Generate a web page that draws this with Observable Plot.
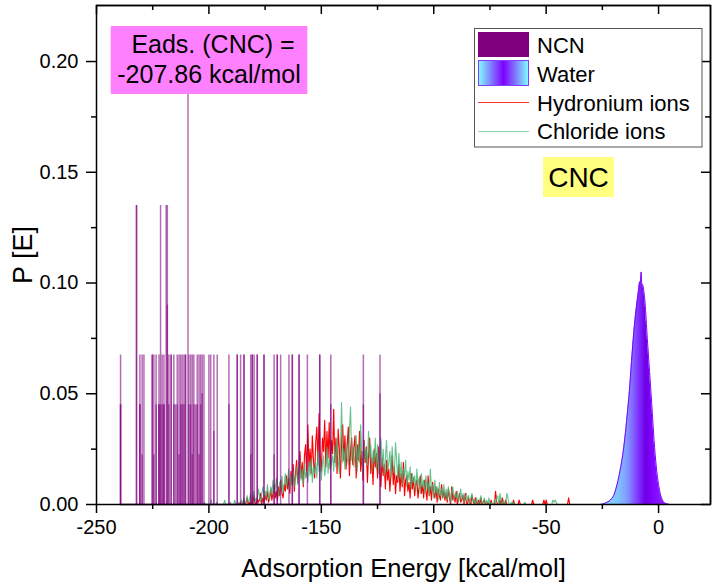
<!DOCTYPE html>
<html>
<head>
<meta charset="utf-8">
<script src="https://cdn.jsdelivr.net/npm/d3@7"></script>
<script src="https://cdn.jsdelivr.net/npm/@observablehq/plot@0.6"></script>
<style>
  html, body { margin: 0; padding: 0; background: #fff; }
  #chart svg { display: block; }
</style>
</head>
<body>
<div id="chart"></div>
<script>
// ---------------- DATA ----------------
// Axis ticks
const xMajorTicks = [-250, -200, -150, -100, -50, 0];
const xMinorTicks = [-225, -175, -125, -75, -25];
const yMajorTicks = [0, 0.05, 0.10, 0.15, 0.20];
const yMinorTicks = [0.025, 0.075, 0.125, 0.175];
const xDomain = [-250, 23.1];
const yDomain = [0, 0.2253];

// NCN adsorption-energy histogram spikes (energy, probability); repeated energies = overlapping bins
const ncnE = [
  -239.3, -239.3, -239.3, -232.2, -232.2, -230.7, -230.7, -230.7, -229.7, -229.7, -228.9,
  -225.2, -225.2, -224.5, -224.5, -223.5, -223.5, -222.2, -222.2, -222.2, -221.5, -221.5,
  -220.8, -220.8, -220.0, -220.0, -220.0, -219.0, -218.5, -218.5, -217.8, -217.8,
  -216.8, -216.8, -215.6, -215.6, -214.9, -214.1, -214.1, -213.3, -213.3, -212.6, -212.6,
  -211.9, -211.9, -211.1, -211.1, -210.4, -210.4, -208.9, -208.9, -208.1, -208.1,
  -207.4, -207.4, -206.7, -206.7, -205.9, -205.2, -205.2, -204.4, -204.4, -203.7, -203.7,
  -203.0, -203.0, -202.2, -200.0, -199.2, -197.8, -197.8, -196.3, -191.1, -191.1,
  -187.4, -187.4, -185.9, -184.4, -184.4, -181.4, -181.4, -180.7, -180.7, -179.9,
  -178.5, -178.5, -175.5, -175.5, -171.0, -171.0, -169.6, -169.6, -168.1, -164.4,
  -162.9, -162.9, -159.9, -159.9, -156.2, -150.7, -150.7, -145.8, -145.8,
  -131.3, -131.3, -123.9, -123.9
];
const ncnP = [
  0.0675, 0.045, 0.045, 0.135, 0.135, 0.0675, 0.045, 0.045, 0.0675, 0.0225, 0.0675,
  0.0675, 0.0675, 0.0675, 0.0225, 0.0675, 0.045, 0.0675, 0.045, 0.045, 0.135, 0.045,
  0.0675, 0.045, 0.0675, 0.045, 0.045, 0.135, 0.135, 0.09, 0.0675, 0.045,
  0.0675, 0.0675, 0.0675, 0.045, 0.045, 0.0675, 0.045, 0.0675, 0.0225, 0.0675, 0.045,
  0.0675, 0.045, 0.0675, 0.045, 0.0675, 0.0675, 0.0675, 0.045, 0.0675, 0.045,
  0.0675, 0.0225, 0.0675, 0.045, 0.045, 0.0675, 0.045, 0.0675, 0.0225, 0.0675, 0.045,
  0.0675, 0.05, 0.0675, 0.0675, 0.0675, 0.0675, 0.033, 0.0675, 0.0675, 0.045,
  0.0675, 0.0675, 0.0675, 0.0675, 0.0675, 0.0675, 0.0225, 0.0675, 0.0675, 0.0675,
  0.0675, 0.0675, 0.0675, 0.0675, 0.0675, 0.0225, 0.0675, 0.0675, 0.0675, 0.0675,
  0.0675, 0.0675, 0.0675, 0.0675, 0.0675, 0.0675, 0.0675, 0.0675, 0.045,
  0.0675, 0.045, 0.0675, 0.05
];

// Mean adsorption energy marker (Eads. CNC)
const eadsE = [-209.3];
const eadsTop = [0.1851];

// Ion histograms: energy bins -205 ... -38 (step 0.5 kcal/mol); probabilities in units of 1e-3
const ionE = d3.range(-410, -75).map(i => i / 2);
const hydroniumMilli = [
  0,0,0,0,0,0,0,0,0,0, 0,0,0,0,0,0,0,0,0,0,      // -205
  0,0,0,0,0,0,0,0,0,0, 0,0,0,0,0,0,0,0,1,0,      // -195
  0,2,0,1,3,0,1,0,2,0, 4,1,0,3,1,2,5,0,3,1,      // -185
  4,2,6,1,3,7,2,5,9,3, 6,2,8,4,11,5,3,9,6,13,    // -175
  7,12,5,15,9,18,6,14,20,10, 16,24,12,19,8,22,27,13,36,17,   // -165
  25,14,31,20,12,28,35,18,41,22, 15,30,24,38,17,33,21,37,16,29, // -155
  23,43,19,30,14,34,25,12,28,36, 20,31,16,27,35,13,24,30,18,26, // -145
  31,12,27,20,33,15,24,11,29,19, 26,10,22,30,14,21,9,25,17,23,  // -135
  12,26,15,8,21,13,18,7,20,11, 16,6,14,22,9,17,5,13,10,18,      // -125
  6,14,8,19,4,11,13,6,10,3, 14,7,12,4,9,11,3,8,13,5,            // -115
  9,3,11,6,2,13,4,8,2,10, 5,3,8,1,7,4,2,9,3,6,                  // -105
  2,5,1,7,3,0,8,2,4,1, 6,0,3,5,1,2,4,0,5,1,                     // -95
  0,3,1,0,4,2,0,3,1,0, 2,0,3,0,1,2,0,0,1,0,                     // -85
  0,2,0,0,0,6,1,0,0,2, 0,3,0,0,2,0,0,0,0,0,                     // -75
  0,2,0,0,0,0,2,0,0,0, 0,0,0,0,0,0,0,0,2,0,                     // -65
  0,0,0,0,0,0,0,0,2,0, 2,0,0,0,0,0,0,0,0,0,                     // -55
  0,0,0,0,0,0,0,0,0,0, 3,0,0,0,0                                // -45 ... -38
];
const chlorideMilli = [
  0,0,0,0,0,0,1,0,0,0, 0,0,2,0,0,0,0,1,0,0,      // -205
  0,0,0,0,2,0,0,0,0,1, 0,0,0,2,0,0,1,0,0,2,      // -195
  0,3,1,0,4,1,2,5,0,3, 6,1,3,2,7,4,1,5,8,2,      // -185
  6,3,9,4,2,8,5,11,3,7, 12,6,4,10,7,13,5,9,14,8, // -175
  11,16,7,13,10,15,8,12,17,9, 14,20,11,16,9,18,12,15,10,19,     // -165
  13,21,10,17,14,19,12,24,15,20, 11,18,22,13,17,26,14,21,16,19, // -155
  22,15,27,17,30,20,14,24,46,19, 25,16,28,21,18,33,44,20,26,17, // -145
  23,31,15,27,19,36,22,14,29,20, 25,18,33,21,27,15,24,19,30,16, // -135
  27,14,22,30,17,25,13,21,29,15, 19,24,12,26,17,14,28,20,11,23, // -125
  12,19,9,16,13,20,8,15,11,17, 7,14,10,13,6,16,9,12,5,14,       // -115
  8,11,5,13,7,10,4,16,6,9, 3,11,5,8,2,10,4,7,3,9,               // -105
  3,7,2,8,4,1,6,8,2,5, 3,6,1,4,7,2,5,1,3,5,                     // -95
  2,4,0,3,5,1,2,0,3,1, 0,2,4,0,1,3,0,2,0,3,                     // -85
  0,1,0,0,2,0,3,4,0,5, 1,0,2,0,0,5,3,0,0,1,                     // -75
  0,1,0,0,0,0,0,0,0,0, 0,1,0,0,0,0,0,0,0,0,                     // -65
  0,0,0,0,0,0,0,0,0,0, 0,0,0,0,0,0,2,1,2,1,                     // -55
  0,0,0,0,0,0,0,0,0,0, 0,0,0,0,0                                // -45 ... -38
];

// Water adsorption-energy distribution
const waterE = [-26,-25,-24,-23,-22,-21,-20,-19,-18,-17,-16,-15,-14,-13,-12,-11,-10,-9,-8.5,-8,-7.75,-7.5,-7,-6,-5,-4,-3,-2,-1,0,1,2,3,4,5];
const waterP = [0,0.0002,0.0005,0.001,0.0015,0.0025,0.004,0.007,0.011,0.016,0.022,0.030,0.040,0.051,0.065,0.078,0.088,0.096,0.100,0.101,0.105,0.100,0.099,0.091,0.075,0.060,0.045,0.029,0.017,0.009,0.004,0.0015,0.0005,0.0002,0];

// Labels
const xTitle = "Adsorption Energy [kcal/mol]";
const yTitle = "P [E]";
const legendNames = ["NCN", "Water", "Hydronium ions", "Chloride ions"];
const eadsLines = ["Eads. (CNC) =", "-207.86 kcal/mol"];
const systemLabel = "CNC";

// ---------------- BUILD ----------------
const W = 712, H = 587;
const mL = 96, mR = 2, mT = 5, mB = 83;
const frameW = W - mL - mR, frameH = H - mT - mB;
const FONT = "'Liberation Sans', Arial, Helvetica, sans-serif";

const ncn = ncnE.map((e, i) => ({e, p: ncnP[i]}));
const ions = ionE.map((e, i) => ({e, h: hydroniumMilli[i] / 1000, c: chlorideMilli[i] / 1000}));
const water = waterE.map((e, i) => ({e, p: waterP[i]}));
const eads = eadsE.map((e, i) => ({e, top: eadsTop[i]}));

const svg = Plot.plot({
  width: W, height: H,
  marginLeft: mL, marginRight: mR, marginTop: mT, marginBottom: mB,
  style: {fontFamily: FONT, color: "black", background: "white", overflow: "visible"},
  x: {domain: xDomain},
  y: {domain: yDomain},
  marks: [
    // ion histograms
    Plot.line(ions, {x: "e", y: "h", stroke: "#ff0000", strokeWidth: 1.15}),
    Plot.line(ions, {x: "e", y: "c", stroke: "#3cb371", strokeWidth: 1.1, strokeOpacity: 0.8}),
    // NCN spikes
    Plot.ruleY([0], {x1: d3.min(ncnE), x2: d3.max(ncnE), stroke: "#800080", strokeWidth: 1.5}),
    Plot.ruleX(ncn, {x: "e", y1: 0, y2: "p", stroke: "#800080", strokeOpacity: 0.58, strokeWidth: 1.5}),
    Plot.ruleX(eads, {x: "e", y1: 0, y2: "top", stroke: "#8a2a8a", strokeWidth: 1}),
    // water
    Plot.areaY(water, {x: "e", y: "p", fill: "url(#waterGrad)", curve: "monotone-x"}),
    Plot.line(water, {x: "e", y: "p", stroke: "#8000ff", strokeWidth: 1, curve: "monotone-x"}),
    // frame + axes
    Plot.frame({stroke: "black", strokeWidth: 1.5}),
    Plot.ruleY([yDomain[1]], {stroke: "black", strokeWidth: 1.5}),
    Plot.ruleX([xDomain[1]], {stroke: "black", strokeWidth: 1.5}),
    Plot.axisX({ticks: xMajorTicks, tickSize: 9, tickPadding: 6, fontSize: 20, strokeWidth: 1.5,
                tickFormat: d => String(d), label: null}),
    Plot.axisX({ticks: xMinorTicks, tickSize: 5, strokeWidth: 1.5, tickFormat: () => "", label: null}),
    Plot.tickX(xMajorTicks, {x: d => d, insetBottom: frameH - 9, stroke: "black", strokeWidth: 1.5}),
    Plot.tickX(xMinorTicks, {x: d => d, insetBottom: frameH - 5, stroke: "black", strokeWidth: 1.5}),
    Plot.axisY({ticks: yMajorTicks, tickSize: 10, tickPadding: 8, fontSize: 20, strokeWidth: 1.5,
                tickFormat: d3.format(".2f"), label: null}),
    Plot.axisY({ticks: yMinorTicks, tickSize: 5, strokeWidth: 1.5, tickFormat: () => "", label: null}),
    Plot.tickY(yMajorTicks, {y: d => d, insetLeft: frameW - 9, stroke: "black", strokeWidth: 1.5}),
    Plot.tickY(yMinorTicks, {y: d => d, insetLeft: frameW - 5, stroke: "black", strokeWidth: 1.5}),
    // titles
    Plot.text([xTitle], {frameAnchor: "bottom", dy: 64, fontSize: 25.5, lineAnchor: "middle", fill: "black"}),
    Plot.text([yTitle], {frameAnchor: "left", dx: -73, dy: 29, rotate: -90, fontSize: 27, lineAnchor: "middle", fill: "black"})
  ]
});

// gradients
const root = d3.select(svg);
const defs = root.insert("defs", ":first-child");
const wg = defs.append("linearGradient").attr("id", "waterGrad").attr("x1", "0").attr("x2", "1").attr("y1", "0").attr("y2", "0");
[[0, "#86dcff"], [0.26, "#80c4ff"], [0.39, "#809cff"], [0.48, "#8064ff"], [0.58, "#7f22ff"],
 [0.66, "#6c00e2"], [0.74, "#8000ff"], [1, "#8a30ff"]].forEach(([o, c]) =>
  wg.append("stop").attr("offset", o).attr("stop-color", c));
const lg = defs.append("linearGradient").attr("id", "legendGrad").attr("x1", "0").attr("x2", "1").attr("y1", "0").attr("y2", "0");
[[0, "#80ffff"], [0.5, "#8000ff"], [1, "#80ffff"]].forEach(([o, c]) =>
  lg.append("stop").attr("offset", o).attr("stop-color", c));

// annotations: Eads box, CNC label, legend
const ann = root.append("g").attr("font-family", FONT).attr("fill", "black");
ann.append("rect").attr("x", 110.7).attr("y", 26).attr("width", 196.6).attr("height", 68).attr("fill", "#ff80ff");
ann.append("text").attr("x", 213).attr("y", 53).attr("text-anchor", "middle").attr("font-size", 25).text(eadsLines[0]);
ann.append("text").attr("x", 209).attr("y", 83).attr("text-anchor", "middle").attr("font-size", 25).text(eadsLines[1]);

ann.append("rect").attr("x", 543).attr("y", 157).attr("width", 71).attr("height", 40).attr("fill", "#ffff80");
ann.append("text").attr("x", 578.5).attr("y", 187).attr("text-anchor", "middle").attr("font-size", 28).text(systemLabel);

const lgG = ann.append("g");
lgG.append("rect").attr("x", 474.5).attr("y", 28.5).attr("width", 227.5).attr("height", 118.5)
  .attr("fill", "white").attr("stroke", "#555").attr("stroke-width", 1);
lgG.append("rect").attr("x", 478).attr("y", 32).attr("width", 51).attr("height", 25).attr("fill", "#800080");
lgG.append("rect").attr("x", 478.5).attr("y", 60.5).attr("width", 50).attr("height", 25)
  .attr("fill", "url(#legendGrad)").attr("stroke", "#8040ff").attr("stroke-width", 1);
lgG.append("line").attr("x1", 478).attr("x2", 529).attr("y1", 102.5).attr("y2", 102.5).attr("stroke", "#ff3030").attr("stroke-width", 1);
lgG.append("line").attr("x1", 478).attr("x2", 529).attr("y1", 131.5).attr("y2", 131.5).attr("stroke", "#3cb371").attr("stroke-opacity", 0.55).attr("stroke-width", 1);
[[52.5, 0], [82, 1], [110.5, 2], [139, 3]].forEach(([y, i]) =>
  lgG.append("text").attr("x", 537).attr("y", y).attr("text-anchor", "start").attr("font-size", 22).text(legendNames[i]));

document.getElementById("chart").appendChild(svg);
</script>
</body>
</html>
